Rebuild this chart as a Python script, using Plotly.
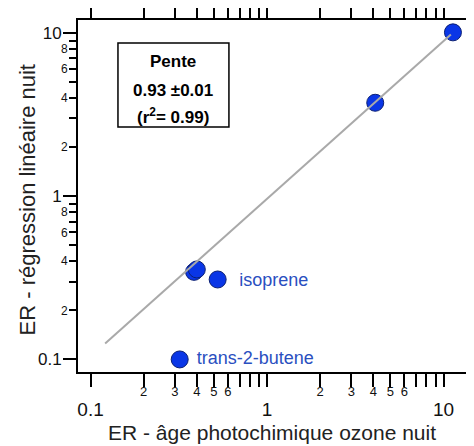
import math
import plotly.graph_objects as go

FONT = "Liberation Sans, Arial, sans-serif"
BLUE = "#0a36e6"
EDGE = "#0b1f73"
LABEL_BLUE = "#2a4fbf"
GREY_LINE = "#a9a9a9"

# Données (ER nuit)
er_age = [11.3, 4.1, 0.386, 0.40, 0.525, 0.32]
er_regr = [10.1, 3.74, 0.344, 0.356, 0.309, 0.10]

# Droite de régression (extrémités)
fit_x = [0.121, 11.0]
fit_y = [0.125, 9.8]

# Étiquettes des composés (position du début du texte)
names = ["isoprene", "trans-2-butene"]
name_x = [0.695, 0.400]
name_y = [0.302, 0.10]

# Graduations
major_vals = [0.1, 1, 10]
major_text = ["0.1", "1", "10"]
minor_vals = [0.2, 0.3, 0.4, 0.5, 0.6, 0.7, 0.8, 0.9, 2, 3, 4, 5, 6, 7, 8, 9]
x_minor_lab = [0.2, 0.3, 0.4, 0.5, 0.6, 2, 3, 4, 5, 6]
x_minor_txt = ["2", "3", "4", "5", "6", "2", "3", "4", "5", "6"]
y_minor_lab = [0.2, 0.4, 0.6, 0.8, 2, 4, 6, 8]
y_minor_txt = ["2", "4", "6", "8", "2", "4", "6", "8"]

x_range = [-1.071, 1.127]
y_range = [-1.077, 1.080]

fig = go.Figure()
# droite sur les axes secondaires (superposés, même échelle)
fig.add_trace(go.Scatter(
    x=fit_x, y=fit_y, mode="lines", xaxis="x2", yaxis="y2",
    line=dict(color=GREY_LINE, width=2),
    hoverinfo="skip", showlegend=False
))
fig.add_trace(go.Scatter(
    x=er_age, y=er_regr, mode="markers",
    marker=dict(size=17, color=BLUE, line=dict(color=EDGE, width=1)),
    showlegend=False
))
# noms des composés
fig.add_trace(go.Scatter(
    x=name_x, y=name_y, mode="text", yaxis="y3",
    text=names, textposition="middle right",
    textfont=dict(family=FONT, size=18, color=LABEL_BLUE),
    hoverinfo="skip", showlegend=False
))

axis_common = dict(
    type="log", showgrid=False, zeroline=False, automargin=False,
    linecolor="black", linewidth=2,
    ticks="outside", tickcolor="black", tickwidth=1.5, ticklen=13,
    mirror="allticks", showline=True,
    tickfont=dict(family=FONT, color="#111111"),
    minor=dict(tickvals=minor_vals, ticks="outside", ticklen=7,
               tickwidth=1.5, tickcolor="black"),
)

label_axis = dict(
    type="log", automargin=False, showgrid=False, zeroline=False,
    showline=False, ticks="outside", tickcolor="rgba(0,0,0,0)",
)

fig.update_layout(
    width=466, height=438,
    margin=dict(l=70, r=8, t=12, b=74, autoexpand=False),
    plot_bgcolor="white", paper_bgcolor="white",
    font=dict(family=FONT, color="#222222"),
    xaxis=dict(axis_common, range=x_range, tickvals=major_vals,
               ticktext=major_text, tickfont_size=19, ticklabelstandoff=6),
    yaxis=dict(axis_common, range=y_range, tickvals=major_vals,
               showticklabels=False),
    xaxis2=dict(label_axis, overlaying="x", side="bottom", anchor="y",
                range=x_range, ticklen=7,
                tickvals=x_minor_lab, ticktext=x_minor_txt,
                tickfont=dict(family=FONT, size=13, color="#111111")),
    yaxis2=dict(label_axis, overlaying="y", side="left", anchor="x",
                range=y_range, ticklen=7,
                tickvals=y_minor_lab, ticktext=y_minor_txt,
                tickfont=dict(family=FONT, size=12, color="#111111")),
    yaxis3=dict(label_axis, overlaying="y", side="left", anchor="x",
                range=y_range, ticklen=12,
                tickvals=major_vals, ticktext=major_text,
                tickfont=dict(family=FONT, size=17, color="#111111")),
)

# Encadré de la pente
fig.add_shape(type="rect", xref="paper", yref="paper",
              x0=0.103, x1=0.389, y0=0.696, y1=0.935,
              line=dict(color="black", width=1.5), fillcolor="white")
box_lines = ["Pente", "0.93 ±0.01", "(r<sup>2</sup>= 0.99)"]
box_y = [0.881, 0.801, 0.728]
for t, yy in zip(box_lines, box_y):
    fig.add_annotation(x=0.246, y=yy, xref="paper", yref="paper",
                       xanchor="center", yanchor="middle",
                       text=f"<b>{t}</b>", showarrow=False,
                       font=dict(family=FONT, size=17, color="black"))

# Titres des axes
fig.add_annotation(x=0.5, y=-0.171, xref="paper", yref="paper",
                   xanchor="center", yanchor="middle",
                   text="ER - âge photochimique ozone nuit", showarrow=False,
                   font=dict(family=FONT, size=21, color="#222222"))
fig.add_annotation(x=-0.129, y=0.49, xref="paper", yref="paper",
                   xanchor="center", yanchor="middle",
                   text="ER - régression linéaire nuit", showarrow=False,
                   textangle=-90,
                   font=dict(family=FONT, size=22, color="#222222"))

fig.write_html("out.html")
